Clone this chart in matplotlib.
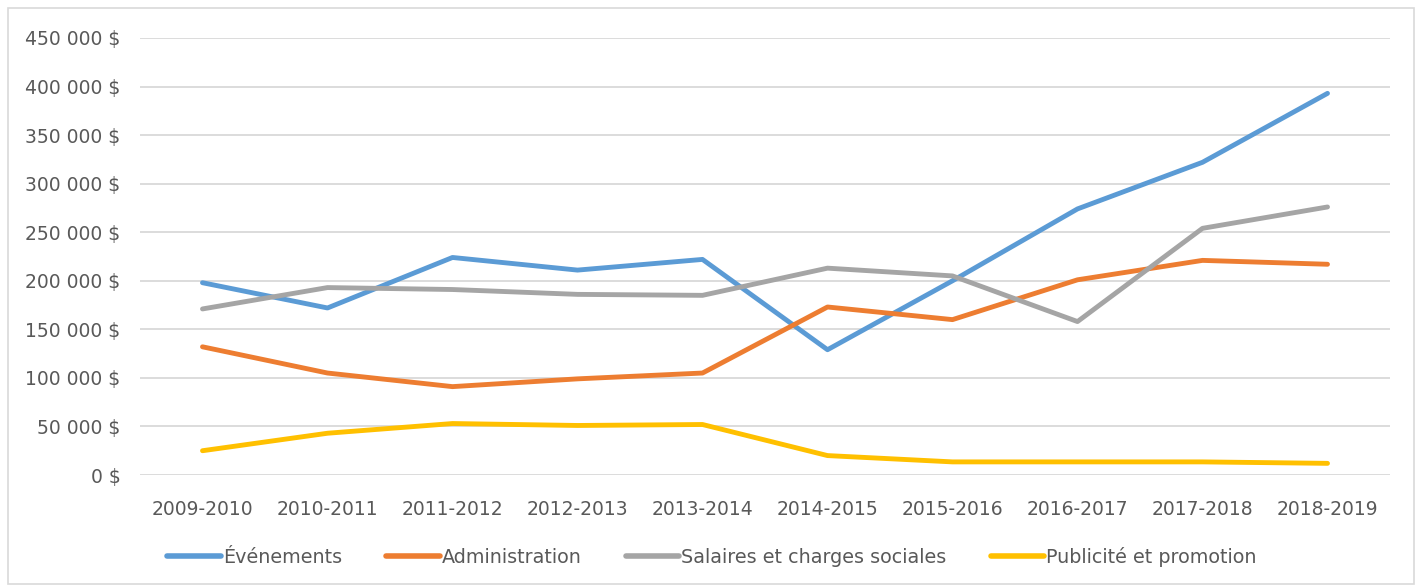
import matplotlib
matplotlib.use("Agg")
import matplotlib.pyplot as plt
from matplotlib.ticker import FuncFormatter, MultipleLocator
from matplotlib.patches import Rectangle

plt.rcParams["font.family"] = ["DejaVu Sans"]

years = ["2009-2010", "2010-2011", "2011-2012", "2012-2013", "2013-2014",
         "2014-2015", "2015-2016", "2016-2017", "2017-2018", "2018-2019"]
evenements = [198000, 172000, 224000, 211000, 222000, 129000, 200000, 274000, 322000, 393000]
administration = [132000, 105000, 91000, 99000, 105000, 173000, 160000, 201000, 221000, 217000]
salaires = [171000, 193000, 191000, 186000, 185000, 213000, 205000, 158000, 254000, 276000]
publicite = [25000, 43000, 53000, 51000, 52000, 20000, 13500, 13500, 13500, 12000]

series = [
    ("Événements", evenements, "#5b9bd5"),
    ("Administration", administration, "#ed7d31"),
    ("Salaires et charges sociales", salaires, "#a5a5a5"),
    ("Publicité et promotion", publicite, "#ffc000"),
]


def money(v, pos):
    return "{:,.0f} $".format(v).replace(",", " ")


fig = plt.figure(figsize=(14.24, 5.86), dpi=100)
ax = fig.add_axes([140 / 1424, 1 - 475 / 586, 1250 / 1424, 437 / 586])

x = range(len(years))
for name, vals, color in series:
    ax.plot(x, vals, color=color, lw=3.5, label=name, solid_capstyle="round", solid_joinstyle="round")

ax.set_xlim(-0.5, len(years) - 0.5)
ax.set_ylim(0, 450000)
ax.yaxis.set_major_locator(MultipleLocator(50000))
ax.yaxis.set_major_formatter(FuncFormatter(money))
ax.set_xticks(list(x))
ax.set_xticklabels(years)
ax.grid(axis="y", color="#d9d9d9", lw=1.3)
ax.set_axisbelow(True)
for s in ax.spines.values():
    s.set_visible(False)
ax.tick_params(length=0, labelsize=13.5, labelcolor="#595959")
ax.tick_params(axis="y", pad=14)
ax.tick_params(axis="x", pad=18)

leg = fig.legend(loc="center", bbox_to_anchor=(0.5, 1 - 557 / 586), ncol=4, frameon=False,
                 fontsize=13.8, handlelength=2.8, handletextpad=0.1, columnspacing=2.3)
for t in leg.get_texts():
    t.set_color("#595959")
for h in leg.legend_handles:
    h.set_linewidth(4)

fig.patches.append(Rectangle((8 / 1424, 2 / 586), 1406 / 1424, 576 / 586, transform=fig.transFigure,
                             fill=False, edgecolor="#d9d9d9", lw=1.2))

plt.savefig("out.png", dpi=100)
